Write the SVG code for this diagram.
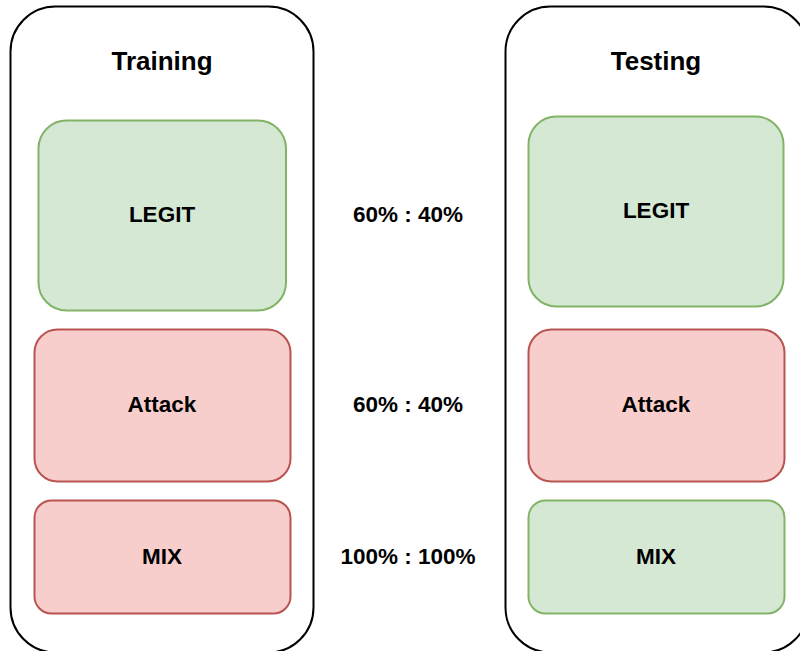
<svg xmlns="http://www.w3.org/2000/svg" width="800" height="651" viewBox="0 0 800 651">
  <style>
    .container { fill: #ffffff; stroke: #000000; stroke-width: 2; }
    .green { fill: #d5e8d4; stroke: #82b366; stroke-width: 2; }
    .red { fill: #f8cecc; stroke: #b85450; stroke-width: 2; }
    .title { font-family: "Liberation Sans", Arial, sans-serif; font-weight: bold; font-size: 26px; text-anchor: middle; fill: #000000; }
    .label { font-family: "Liberation Sans", Arial, sans-serif; font-weight: bold; font-size: 22.5px; text-anchor: middle; fill: #000000; }
  </style>
  <rect width="800" height="651" fill="#ffffff"/>
  <g id="training">
    <rect class="container" x="10.5" y="6.5" width="303" height="646" rx="45" ry="45"/>
    <text class="title" x="162" y="70">Training</text>
  </g>
  <g id="testing">
    <rect class="container" x="505.5" y="6.5" width="303" height="646" rx="45" ry="45"/>
    <text class="title" x="656" y="70">Testing</text>
  </g>
  <g id="train-legit">
    <rect class="green" x="38.5" y="120.5" width="247.5" height="190" rx="28" ry="28"/>
    <text class="label" x="162" y="222">LEGIT</text>
  </g>
  <g id="train-attack">
    <rect class="red" x="34.5" y="329.5" width="256" height="152" rx="23" ry="23"/>
    <text class="label" x="162" y="412">Attack</text>
  </g>
  <g id="train-mix">
    <rect class="red" x="34.5" y="500.5" width="256" height="113" rx="17" ry="17"/>
    <text class="label" x="162" y="564">MIX</text>
  </g>
  <g id="test-legit">
    <rect class="green" x="528.5" y="116.5" width="255" height="190" rx="28" ry="28"/>
    <text class="label" x="656" y="218">LEGIT</text>
  </g>
  <g id="test-attack">
    <rect class="red" x="528.5" y="329.5" width="256" height="152" rx="23" ry="23"/>
    <text class="label" x="656" y="412">Attack</text>
  </g>
  <g id="test-mix">
    <rect class="green" x="528.5" y="500.5" width="256" height="113" rx="17" ry="17"/>
    <text class="label" x="656" y="564">MIX</text>
  </g>
  <g id="ratios">
    <text class="label" x="408" y="222">60% : 40%</text>
    <text class="label" x="408" y="412">60% : 40%</text>
    <text class="label" x="408" y="564">100% : 100%</text>
  </g>
  <g id="connectors"></g>
</svg>
